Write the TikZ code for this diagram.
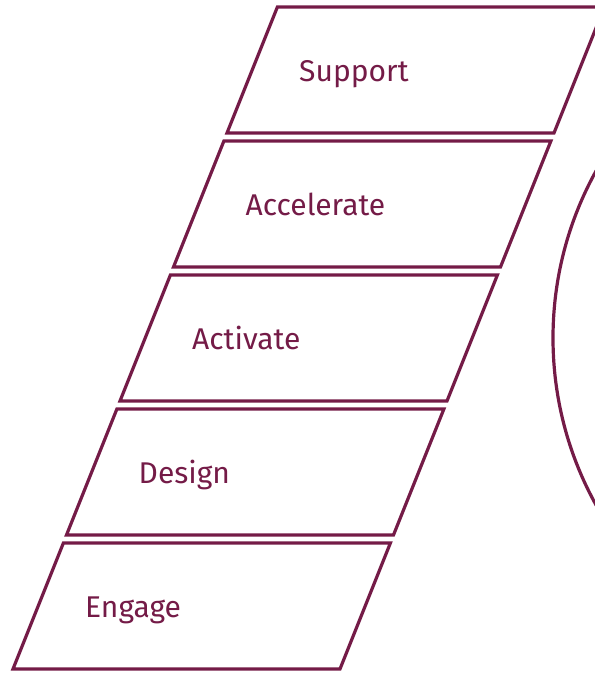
\documentclass[tikz,border=0pt]{standalone}
\usepackage{fontspec}
\setmainfont{Fira Sans}
\usepackage{xcolor}
\usepackage{tikz}
\definecolor{plum}{HTML}{741B47}

\tikzset{
    stepbox/.style={draw=plum, line width=3.2pt, line join=miter},
    steplabel/.style={anchor=base west, text=plum, font=\fontsize{30}{33}\selectfont, inner sep=0pt},
}

\begin{document}
\begin{tikzpicture}[x=1pt,y=1pt]
        \useasboundingbox (0,0) rectangle (595,673);
        \clip (0,0) rectangle (595,673);

        % Boxes
        \draw[stepbox] (13,4)    -- ++(327,0) -- ++(50.4,126) -- ++(-327,0) -- cycle;
        \draw[stepbox] (66.5,138) -- ++(327,0) -- ++(50.4,126) -- ++(-327,0) -- cycle;
        \draw[stepbox] (120,272)  -- ++(327,0) -- ++(50.4,126) -- ++(-327,0) -- cycle;
        \draw[stepbox] (173.5,406) -- ++(327,0) -- ++(50.4,126) -- ++(-327,0) -- cycle;
        \draw[stepbox] (227,540)  -- ++(327,0) -- ++(50.4,126) -- ++(-327,0) -- cycle;

        % Labels
        \node[steplabel] (engage)     at (85,55)  {Engage};
        \node[steplabel] (design)     at (138.5,189)  {Design};
        \node[steplabel] (activate)   at (192,323) {Activate};
        \node[steplabel] (accelerate) at (245.5,457)  {Accelerate};
        \node[steplabel] (support)    at (299,591) {Support};

        % Ring
        \draw[stepbox] (898,335) circle (345);
    \end{tikzpicture}
\end{document}
